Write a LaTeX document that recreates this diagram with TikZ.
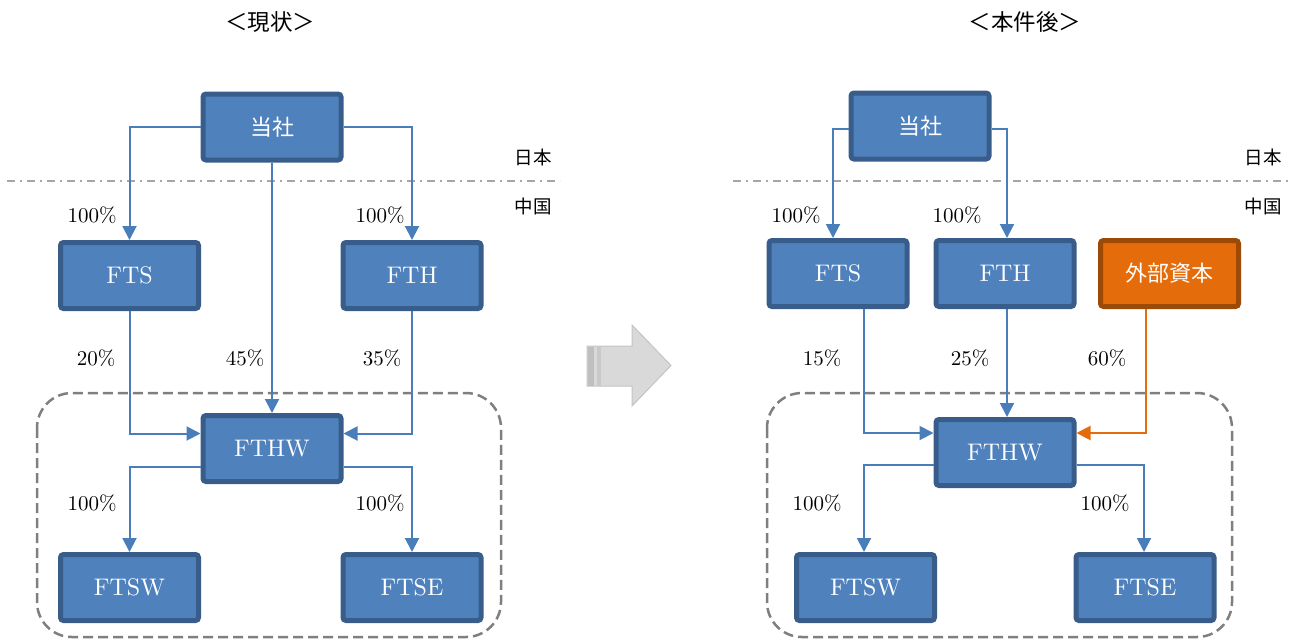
\documentclass[tikz,border=0pt]{standalone}
\usepackage{fontspec}
\setmainfont{lmroman10-regular.otf}
\newfontfamily\jp{Noto Sans CJK JP}
\usetikzlibrary{arrows.meta,calc}
\definecolor{boxfill}{HTML}{4F81BD}
\definecolor{boxline}{HTML}{385D8A}
\definecolor{connblue}{HTML}{4A7EBB}
\definecolor{orfill}{HTML}{E46C0A}
\definecolor{orline}{HTML}{9C4A06}
\definecolor{dgray}{HTML}{7F7F7F}
\definecolor{lgray}{HTML}{A6A6A6}
\begin{document}
\begin{tikzpicture}[x=1pt,y=-1pt,
  box/.style={draw=boxline, fill=boxfill, line width=5pt, rounded corners=3pt,
    text=white, inner sep=0pt, minimum width=138pt, minimum height=66pt,
    font=\fontsize{24}{26}\selectfont},
  jpbox/.style={box, font=\jp\fontsize{22}{24}\selectfont},
  orbox/.style={jpbox, draw=orline, fill=orfill},
  conn/.style={draw=connblue, line width=2pt, -{Triangle[width=14pt,length=14pt]}},
  oconn/.style={conn, draw=orfill, -{Triangle[width=14pt,length=14pt,fill=orfill]}},
  pct/.style={font=\fontsize{21}{24}\selectfont, inner sep=0pt},
  region/.style={font=\jp\fontsize{18.5}{20}\selectfont, inner sep=0pt},
  ttl/.style={font=\jp\fontsize{22.5}{24}\selectfont, inner sep=0pt},
  group/.style={draw=dgray, line width=2.5pt, dash pattern=on 10pt off 5pt, rounded corners=35pt},
  border/.style={draw=lgray, line width=2pt, dash pattern=on 8pt off 5pt on 2pt off 5pt}
]
\useasboundingbox (0,0) rectangle (1293,641);

% titles
\node[ttl] (t1) at (270,22) {＜現状＞};
\node[ttl] (t2) at (1025,22) {＜本件後＞};

% borders
\draw[border] (7,181) -- (560,181);
\draw[border] (733,181) -- (1290,181);
\node[region] (jp1) at (533,157) {日本};
\node[region] (cn1) at (533,206) {中国};
\node[region] (jp2) at (1263,157) {日本};
\node[region] (cn2) at (1263,206) {中国};

% groups
\draw[group] (37,393) rectangle (501,637);
\draw[group] (767,393) rectangle (1232,637);

% big arrow
\draw[fill=black!15, draw=black!23, line width=1pt]
  (587,346) -- (632,346) -- (632,325) -- (671,365.5) -- (632,406) -- (632,386) -- (587,386) -- cycle;
\fill[black!25] (587.5,346.5) rectangle (594,385.5);
\fill[black!21] (596.5,346.5) rectangle (601,385.5);

% left boxes
\node[jpbox] (sha) at (272,127) {当社};
\node[box] (fts) at (129.5,275.5) {FTS};
\node[box] (fth) at (412,275.5) {FTH};
\node[box] (fthw) at (272,448.5) {FTHW};
\node[box] (ftsw) at (129.5,587.5) {FTSW};
\node[box] (ftse) at (412,587.5) {FTSE};

\draw[conn] (sha.west) -| (fts.north);
\draw[conn] (sha.east) -| (fth.north);
\draw[conn] (sha.south) -- (fthw.north);
\draw[conn] (fts.south) |- ([yshift=15pt]fthw.west);
\draw[conn] (fth.south) |- ([yshift=15pt]fthw.east);
\draw[conn] ([yshift=-18pt]fthw.west) -| (ftsw.north);
\draw[conn] ([yshift=-18pt]fthw.east) -| (ftse.north);

\node[pct] (p1) at (92,215) {100\%};
\node[pct] (p2) at (380,215) {100\%};
\node[pct] (p3) at (96,358) {20\%};
\node[pct] (p4) at (245,358) {45\%};
\node[pct] (p5) at (382,358) {35\%};
\node[pct] (p6) at (92,503) {100\%};
\node[pct] (p7) at (380,503) {100\%};

% right boxes
\node[jpbox] (sha2) at (920,126) {当社};
\node[box] (fts2) at (838,273.5) {FTS};
\node[box] (fth2) at (1005,273.5) {FTH};
\node[orbox] (ext) at (1169.5,273.5) {外部資本};
\node[box] (fthw2) at (1005,452.5) {FTHW};
\node[box] (ftsw2) at (865.5,587.5) {FTSW};
\node[box] (ftse2) at (1145,587.5) {FTSE};

\draw[conn] ([yshift=-3pt]sha2.west) -| ([xshift=-5pt]fts2.north);
\draw[conn] ([yshift=-3pt]sha2.east) -| ([xshift=2pt]fth2.north);
\draw[conn] ([xshift=26pt]fts2.south) |- ([yshift=19.5pt]fthw2.west);
\draw[conn] ([xshift=2pt]fth2.south) -- ([xshift=2pt]fthw2.north);
\draw[oconn] ([xshift=-23.5pt]ext.south) |- ([yshift=19.5pt]fthw2.east);
\draw[conn] ([yshift=-12pt]fthw2.west) -| ([xshift=-1.5pt]ftsw2.north);
\draw[conn] ([yshift=-12pt]fthw2.east) -| ([xshift=-1pt]ftse2.north);

\node[pct] (q1) at (796,215) {100\%};
\node[pct] (q2) at (957,215) {100\%};
\node[pct] (q3) at (822,358) {15\%};
\node[pct] (q4) at (970,358) {25\%};
\node[pct] (q5) at (1107,358) {60\%};
\node[pct] (q6) at (817,503) {100\%};
\node[pct] (q7) at (1105,503) {100\%};
\end{tikzpicture}
\end{document}
